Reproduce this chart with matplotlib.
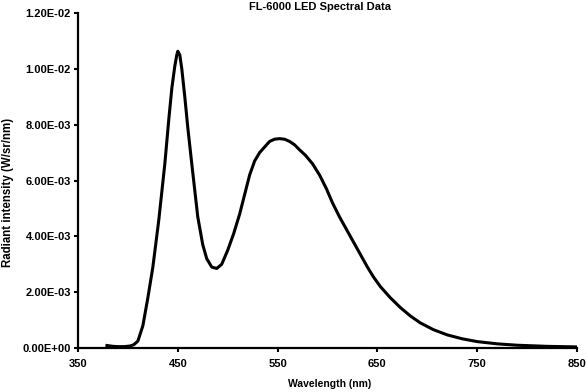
import matplotlib.pyplot as plt
import numpy as np

plt.rcParams['font.family'] = ['Liberation Sans', 'DejaVu Sans']

wavelength = [379, 385, 390, 396, 402, 406, 410, 415, 420, 425, 431, 437, 441, 444, 447, 449, 450,
              452, 454, 457, 460, 464, 470, 475, 479, 484, 489, 494, 500, 506, 512, 517, 522, 527,
              532, 537, 542, 547, 552, 557, 562, 567, 572, 578, 585, 592, 599, 605, 612, 619, 626,
              633, 640, 646, 653, 663, 673, 683, 693, 706, 720, 735, 750, 770, 790, 820, 850]
intensity = [0.00009, 0.00006, 0.00005, 0.00005, 0.00007, 0.00012, 0.00025, 0.0008, 0.0018, 0.0029,
             0.0046, 0.0066, 0.0082, 0.0093, 0.0101, 0.0105, 0.01063,
             0.0105, 0.0100, 0.0090, 0.0079, 0.0066, 0.0047, 0.0037, 0.0032, 0.0029, 0.00285,
             0.0030, 0.0035, 0.0041, 0.0048, 0.0055, 0.0062, 0.0067,
             0.0070, 0.0072, 0.0074, 0.00748, 0.0075, 0.00748, 0.0074, 0.00728, 0.0071, 0.0069,
             0.0066, 0.0062, 0.0057, 0.0052, 0.0047, 0.00425, 0.0038,
             0.00335, 0.0029, 0.00255, 0.0022, 0.0018, 0.00145, 0.00115, 0.0009, 0.00066, 0.00047,
             0.00033, 0.00023, 0.00015, 0.0001, 0.00006, 0.00004]

xticks = [350, 450, 550, 650, 750, 850]
yticks = [0, 0.002, 0.004, 0.006, 0.008, 0.010, 0.012]

fig = plt.figure(figsize=(5.87, 3.92), dpi=100)
ax = fig.add_axes([0.1329, 0.1122, 0.85, 0.8546])
ax.plot(wavelength, intensity, color='black', lw=2.2)

ax.set_xlim(350, 850)
ax.set_ylim(0, 0.012)
ax.set_xticks(xticks)
ax.set_xticklabels([str(t) for t in xticks], fontsize=8, fontweight='bold')
ax.set_yticks(yticks)
ax.set_yticklabels(['%.2E' % t for t in yticks], fontsize=8, fontweight='bold')
ax.tick_params(axis='y', width=1.5, length=3, direction='out', pad=2)
ax.tick_params(axis='x', width=1.5, length=3, direction='out', pad=5)

ax.spines['top'].set_visible(False)
ax.spines['right'].set_visible(False)
ax.spines['left'].set_linewidth(1.6)
ax.spines['bottom'].set_linewidth(1.6)

fig.text(320 / 587, 1 - 7 / 392, 'FL-6000 LED Spectral Data', fontsize=8, fontweight='bold',
         ha='center', va='center')
fig.text(330 / 587, 1 - 384 / 392, 'Wavelength (nm)', fontsize=7.5, fontweight='bold',
         ha='center', va='center')
fig.text(8 / 587, 1 - 192 / 392, 'Radiant intensity (W/sr/nm)', fontsize=8.3, fontweight='bold',
         ha='center', va='center', rotation=90)

fig.savefig('out.png', dpi=100)
